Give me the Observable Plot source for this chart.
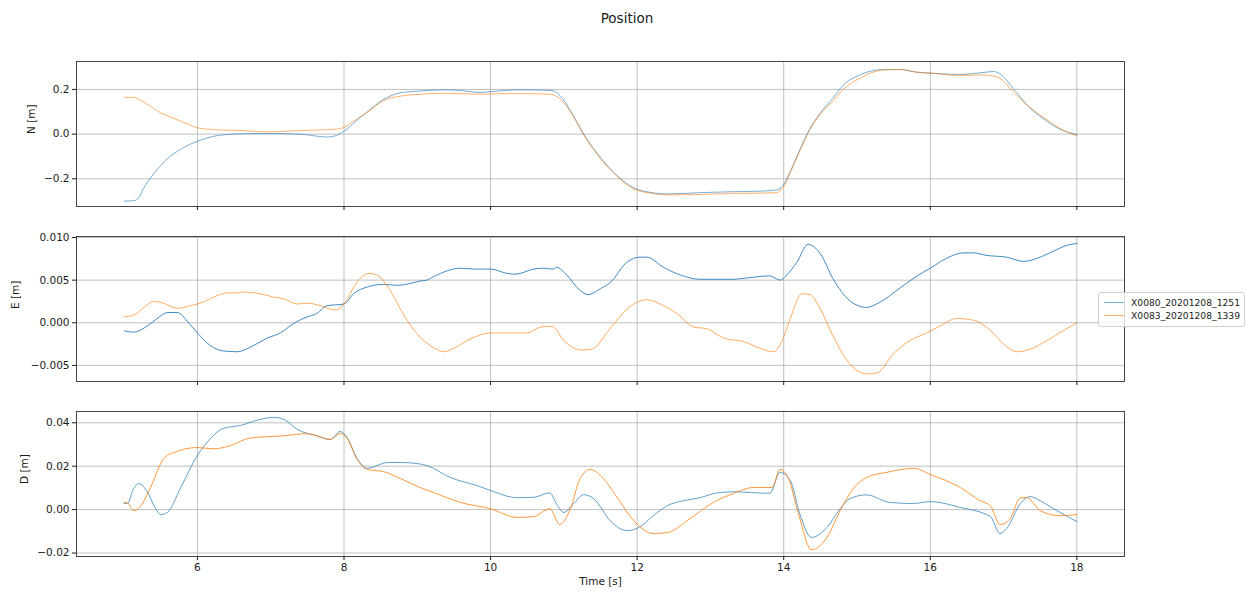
<!DOCTYPE html>
<html>
<head>
<meta charset="utf-8">
<script src="https://cdn.jsdelivr.net/npm/d3@7"></script>
<script src="https://cdn.jsdelivr.net/npm/@observablehq/plot@0.6"></script>
<style>
  body { margin: 0; background: #fff; }
  #root { position: relative; width: 1254px; height: 597px; overflow: hidden; font-family: "DejaVu Sans", sans-serif; color: #1a1a1a; }
  .panel { position: absolute; left: 0; }
  #title { position: absolute; left: 0; width: 1254px; top: 9px; text-align: center; font-size: 13.5px; line-height: 18px; }
  #legend { position: absolute; left: 1098px; top: 292px; width: 145px; height: 33px; border: 1px solid #d0d0d0; border-radius: 3px; background: rgba(255,255,255,0.8); font-size: 9.2px; }
  .row { position: absolute; left: 5px; height: 13px; line-height: 13px; white-space: nowrap; }
  .sw { display: inline-block; width: 20px; height: 0; border-top: 1px solid; vertical-align: middle; margin-right: 7px; position: relative; top: -1px; }
</style>
</head>
<body>
<div id="root">
  <div id="title">Position</div>
  <div id="p1" class="panel" style="top:41px"></div>
  <div id="p2" class="panel" style="top:216px"></div>
  <div id="p3" class="panel" style="top:391px"></div>
  <div id="legend"></div>
</div>
<script>
const SERIES = ["X0080_20201208_1251", "X0083_20201208_1339"];
const COLORS = ["#1f77b4", "#ff7f0e"];
const X_TICKS = [6, 8, 10, 12, 14, 16, 18];
const N_TICKS = [-0.2, 0.0, 0.2];
const E_TICKS = [-0.005, 0.0, 0.005, 0.010];
const D_TICKS = [-0.02, 0.0, 0.02, 0.04];
const X_LABEL = "Time [s]";
const Y_LABELS = ["N [m]", "E [m]", "D [m]"];

// [time s, value m]
const N_X0080 = [[5.0,-0.300],[5.13,-0.298],[5.2,-0.285],[5.26,-0.245],[5.33,-0.21],[5.40,-0.178],[5.5,-0.14],[5.59,-0.11],[5.77,-0.068],[6.0,-0.032],[6.22,-0.01],[6.49,0.0],[6.9,0.003],[7.4,0.0],[7.65,-0.01],[7.77,-0.013],[7.88,-0.008],[7.95,0.003],[8.05,0.025],[8.13,0.049],[8.32,0.10],[8.54,0.155],[8.77,0.185],[9.04,0.193],[9.36,0.198],[9.6,0.195],[9.86,0.186],[10.0,0.19],[10.36,0.198],[10.7,0.197],[10.84,0.195],[10.95,0.172],[11.09,0.105],[11.27,0.0],[11.5,-0.105],[11.73,-0.187],[11.95,-0.24],[12.2,-0.262],[12.41,-0.268],[12.86,-0.262],[13.3,-0.258],[13.7,-0.255],[13.9,-0.25],[14.0,-0.225],[14.1,-0.16],[14.22,-0.07],[14.35,0.02],[14.5,0.095],[14.67,0.16],[14.81,0.218],[15.04,0.265],[15.36,0.289],[15.59,0.289],[15.82,0.277],[16.04,0.272],[16.4,0.267],[16.7,0.275],[16.86,0.28],[16.95,0.27],[17.13,0.205],[17.32,0.13],[17.59,0.058],[17.77,0.022],[18.0,-0.002]];
const N_X0083 = [[5.0,0.165],[5.13,0.164],[5.22,0.152],[5.32,0.133],[5.5,0.095],[5.67,0.072],[5.86,0.046],[6.0,0.028],[6.22,0.02],[6.6,0.016],[6.95,0.01],[7.4,0.016],[7.9,0.022],[8.0,0.03],[8.13,0.058],[8.32,0.098],[8.54,0.15],[8.77,0.17],[9.04,0.178],[9.36,0.183],[9.86,0.178],[10.1,0.181],[10.5,0.181],[10.81,0.178],[10.92,0.165],[11.09,0.1],[11.27,-0.003],[11.5,-0.11],[11.73,-0.19],[11.95,-0.245],[12.2,-0.265],[12.41,-0.272],[12.86,-0.27],[13.3,-0.266],[13.7,-0.264],[13.9,-0.262],[14.0,-0.235],[14.1,-0.165],[14.22,-0.075],[14.35,0.015],[14.5,0.09],[14.67,0.147],[14.81,0.2],[15.04,0.25],[15.36,0.287],[15.59,0.289],[15.82,0.277],[16.04,0.272],[16.4,0.262],[16.7,0.265],[16.86,0.26],[16.95,0.25],[17.13,0.19],[17.32,0.13],[17.59,0.065],[17.77,0.025],[18.0,-0.008]];

const E_X0080 = [[5.0,-0.00095],[5.13,-0.0011],[5.32,-0.00035],[5.45,0.0005],[5.59,0.0012],[5.73,0.0012],[5.86,0.0002],[6.0,-0.0012],[6.18,-0.0027],[6.35,-0.0033],[6.54,-0.0034],[6.76,-0.0027],[6.95,-0.0018],[7.13,-0.0012],[7.31,-0.0001],[7.5,0.0007],[7.61,0.001],[7.77,0.002],[8.0,0.0022],[8.13,0.0034],[8.32,0.0042],[8.54,0.0045],[8.72,0.0044],[8.9,0.0046],[9.04,0.0049],[9.13,0.005],[9.22,0.0054],[9.59,0.0064],[9.77,0.0063],[10.0,0.0063],[10.22,0.0058],[10.34,0.0057],[10.59,0.0063],[10.72,0.0064],[10.85,0.0063],[10.9,0.0065],[11.04,0.0056],[11.22,0.0038],[11.33,0.0033],[11.5,0.004],[11.63,0.0047],[11.86,0.0071],[12.04,0.0077],[12.13,0.0077],[12.36,0.0065],[12.59,0.0056],[12.86,0.0051],[13.31,0.0051],[13.54,0.0053],[13.81,0.0055],[13.95,0.005],[14.04,0.0056],[14.18,0.0071],[14.33,0.0092],[14.5,0.0081],[14.67,0.0052],[14.9,0.0026],[15.13,0.0018],[15.31,0.0024],[15.59,0.0041],[15.82,0.0055],[16.0,0.0064],[16.23,0.0076],[16.45,0.0082],[16.59,0.0082],[16.77,0.0079],[17.04,0.0077],[17.27,0.0072],[17.5,0.0077],[17.68,0.0084],[17.87,0.0091],[18.0,0.0093]];
const E_X0083 = [[5.0,0.0007],[5.13,0.0009],[5.27,0.0018],[5.4,0.0025],[5.5,0.0024],[5.73,0.0017],[5.9,0.002],[6.04,0.0023],[6.22,0.003],[6.4,0.0035],[6.54,0.0035],[6.63,0.0036],[6.86,0.0034],[7.04,0.003],[7.18,0.0028],[7.36,0.0022],[7.5,0.0023],[7.68,0.002],[7.88,0.0015],[8.0,0.0022],[8.18,0.0048],[8.34,0.0058],[8.45,0.0056],[8.63,0.0038],[8.77,0.0016],[8.9,-0.0002],[9.04,-0.0017],[9.2,-0.0028],[9.36,-0.0034],[9.5,-0.003],[9.68,-0.0021],[10.0,-0.0012],[10.5,-0.0012],[10.68,-0.0005],[10.84,-0.0004],[11.0,-0.0021],[11.25,-0.0032],[11.38,-0.0031],[11.63,-0.0007],[11.86,0.0016],[12.13,0.0027],[12.36,0.002],[12.54,0.0011],[12.77,-0.0005],[12.95,-0.0007],[13.18,-0.0018],[13.45,-0.0022],[13.68,-0.003],[13.86,-0.0034],[13.98,-0.0021],[14.09,0.0005],[14.25,0.0034],[14.36,0.0033],[14.5,0.0016],[14.67,-0.0015],[14.9,-0.0048],[15.13,-0.006],[15.27,-0.0059],[15.5,-0.0036],[15.72,-0.0021],[15.95,-0.0012],[16.13,-0.0004],[16.36,0.0005],[16.59,0.0003],[16.82,-0.0009],[17.0,-0.0025],[17.18,-0.0034],[17.36,-0.0031],[17.59,-0.0021],[17.82,-0.0009],[18.0,0.0]];

const D_X0080 = [[5.0,0.0028],[5.05,0.003],[5.12,0.009],[5.2,0.012],[5.32,0.008],[5.42,0.001],[5.5,-0.0023],[5.59,-0.0013],[5.77,0.01],[6.0,0.025],[6.18,0.0328],[6.35,0.0374],[6.59,0.0388],[6.86,0.0416],[7.04,0.0425],[7.18,0.0416],[7.36,0.037],[7.63,0.034],[7.81,0.0323],[7.95,0.036],[8.04,0.0333],[8.18,0.0235],[8.32,0.019],[8.59,0.0217],[8.77,0.0217],[9.04,0.021],[9.13,0.0203],[9.45,0.0148],[9.82,0.011],[10.0,0.0088],[10.36,0.0055],[10.59,0.0057],[10.81,0.0077],[10.9,0.0026],[11.0,-0.0013],[11.13,0.0026],[11.27,0.0069],[11.41,0.005],[11.63,-0.005],[11.86,-0.0097],[12.04,-0.0079],[12.22,-0.0028],[12.41,0.0018],[12.63,0.0041],[12.86,0.0055],[13.09,0.0077],[13.31,0.0082],[13.81,0.0075],[13.95,0.0172],[14.09,0.0134],[14.22,-0.002],[14.38,-0.0128],[14.59,-0.0082],[14.77,0.0004],[14.9,0.005],[15.13,0.0068],[15.45,0.0033],[15.77,0.0028],[16.0,0.0037],[16.41,0.001],[16.82,-0.0032],[16.95,-0.011],[17.04,-0.0088],[17.23,0.0028],[17.36,0.006],[17.54,0.0033],[17.77,-0.0013],[18.0,-0.0055]];
const D_X0083 = [[5.0,0.0033],[5.05,0.003],[5.13,-0.0005],[5.22,0.0014],[5.36,0.0102],[5.54,0.0235],[5.68,0.0263],[6.0,0.0286],[6.22,0.028],[6.45,0.0295],[6.72,0.033],[7.18,0.034],[7.5,0.035],[7.81,0.0323],[7.95,0.035],[8.04,0.033],[8.18,0.023],[8.32,0.0185],[8.54,0.0175],[8.77,0.0143],[9.04,0.0102],[9.22,0.0079],[9.59,0.0033],[10.0,0.0004],[10.36,-0.0036],[10.59,-0.0032],[10.81,0.0004],[10.94,-0.0068],[11.09,0.0004],[11.22,0.0143],[11.36,0.0185],[11.5,0.0157],[11.73,0.0055],[11.95,-0.005],[12.22,-0.011],[12.41,-0.0106],[12.72,-0.0042],[13.04,0.0033],[13.31,0.0074],[13.59,0.0102],[13.84,0.0102],[13.95,0.0185],[14.06,0.0148],[14.2,-0.0018],[14.38,-0.0185],[14.59,-0.0128],[14.77,-0.0005],[14.95,0.0097],[15.13,0.0148],[15.41,0.0172],[15.77,0.019],[16.0,0.0162],[16.41,0.0102],[16.68,0.0041],[16.82,0.0018],[16.95,-0.0069],[17.09,-0.0042],[17.23,0.0055],[17.32,0.0055],[17.5,-0.0005],[17.77,-0.0028],[18.0,-0.0023]];

const X_DOMAIN = [4.35, 18.65];

function panel({blue, orange, ticks, fmt, domain, ylabel, labelDx, showX, opBlue, opOrange}) {
  const marginBottom = showX ? 41 : 10;
  const marks = [
    Plot.gridX(X_TICKS, {stroke: "#b0b0b0", strokeOpacity: 1, strokeWidth: 0.8}),
    Plot.gridY(ticks, {stroke: "#b0b0b0", strokeOpacity: 1, strokeWidth: 0.8}),
    Plot.line(blue, {x: d => d[0], y: d => d[1], stroke: COLORS[0], strokeOpacity: opBlue, strokeWidth: 1, curve: "monotone-x"}),
    Plot.line(orange, {x: d => d[0], y: d => d[1], stroke: COLORS[1], strokeOpacity: opOrange, strokeWidth: 1, curve: "monotone-x"}),
    Plot.frame({stroke: "#333", strokeWidth: 0.9}),
    Plot.axisX({ticks: X_TICKS, tickSize: 4, tickPadding: 3, tickFormat: showX ? d3.format("d") : () => "", label: null, fontSize: 10.5}),
    Plot.axisY({ticks, tickSize: 4, tickPadding: 3, tickFormat: d3.format(fmt), label: null, fontSize: 10.5}),
    Plot.text([ylabel], {frameAnchor: "left", dx: labelDx, rotate: -90, text: d => d, fontSize: 10.5, fill: "#1a1a1a"})
  ];
  if (showX) marks.push(Plot.text([X_LABEL], {frameAnchor: "bottom", dy: 28, text: d => d, fontSize: 10.5, fill: "#1a1a1a"}));
  return Plot.plot({
    width: 1254,
    height: 20 + 145 + marginBottom,
    marginLeft: 76, marginRight: 130, marginTop: 20, marginBottom,
    x: {domain: X_DOMAIN},
    y: {domain},
    style: {fontFamily: "DejaVu Sans", fontSize: "10.5px", color: "#1a1a1a", background: "transparent", overflow: "visible"},
    marks
  });
}

document.getElementById("p1").append(panel({blue: N_X0080, orange: N_X0083, ticks: N_TICKS, fmt: ".1f", domain: [-0.324, 0.325], ylabel: Y_LABELS[0], labelDx: -45, showX: false, opBlue: 0.6, opOrange: 0.6}));
document.getElementById("p2").append(panel({blue: E_X0080, orange: E_X0083, ticks: E_TICKS, fmt: ".3f", domain: [-0.00689, 0.01012], ylabel: Y_LABELS[1], labelDx: -61, showX: false, opBlue: 0.85, opOrange: 0.65}));
document.getElementById("p3").append(panel({blue: D_X0080, orange: D_X0083, ticks: D_TICKS, fmt: ".2f", domain: [-0.0216, 0.0452], ylabel: Y_LABELS[2], labelDx: -52, showX: true, opBlue: 0.7, opOrange: 0.8}));

const legend = document.getElementById("legend");
SERIES.forEach((name, i) => {
  const row = document.createElement("div");
  row.className = "row";
  row.style.top = (3 + i * 13) + "px";
  const sw = document.createElement("span");
  sw.className = "sw";
  sw.style.borderColor = COLORS[i];
  sw.style.opacity = 0.6;
  row.append(sw, document.createTextNode(name));
  legend.append(row);
});
</script>
</body>
</html>
